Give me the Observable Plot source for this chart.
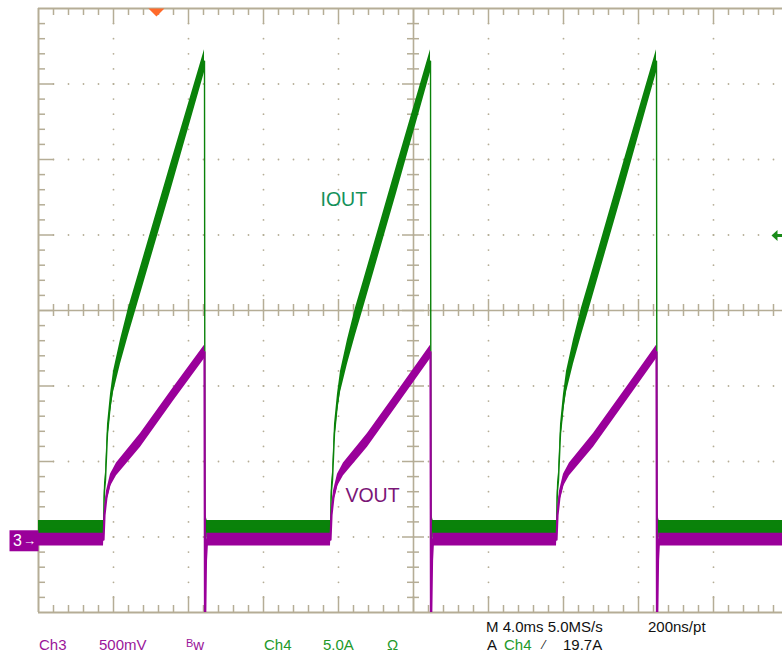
<!DOCTYPE html>
<html><head><meta charset="utf-8">
<script src="https://cdn.jsdelivr.net/npm/d3@7"></script>
<script src="https://cdn.jsdelivr.net/npm/@observablehq/plot@0.6"></script>
<style>
html,body{margin:0;padding:0;background:#fff;overflow:hidden;width:782px;height:655px;}
#chart{position:absolute;left:0;top:0;}
.cap{position:absolute;white-space:nowrap;font-family:"Liberation Sans",Arial,sans-serif;font-size:15px;line-height:17px;}
.pu{color:#9a169a}.gr{color:#22992a}.bk{color:#111}
</style></head>
<body>
<div id="chart"></div>
<div class="cap bk" style="left:486px;top:618px">M 4.0ms 5.0MS/s</div>
<div class="cap bk" style="left:648px;top:618px">200ns/pt</div>
<div class="cap pu" style="left:39px;top:636px">Ch3</div>
<div class="cap pu" style="left:99px;top:636px">500mV</div>
<div class="cap pu" style="left:186px;top:636px"><span style="font-size:11px;position:relative;top:-3px">B</span>w</div>
<div class="cap gr" style="left:264px;top:636px">Ch4</div>
<div class="cap gr" style="left:323px;top:636px">5.0A</div>
<div class="cap gr" style="left:387px;top:636px">Ω</div>
<div class="cap bk" style="left:487px;top:636px">A</div>
<div class="cap gr" style="left:504px;top:636px">Ch4</div>
<div class="cap bk" style="left:543px;top:637px;font-size:12px">⁄</div>
<div class="cap bk" style="left:563px;top:636px">19.7A</div>
<script>
// ---- scope settings ----
const timePerDiv = 4.0;          // ms/div
const ch3VoltsPerDiv = 0.5;      // V/div
const ch3OffsetDiv = -3.05;      // ground marker position (div)
const ch4AmpsPerDiv = 5.0;       // A/div
const ch4OffsetDiv = -2.947;     // zero position (div)
const triggerTime = 6.29;        // ms
const triggerLevel = 19.7;       // A

// ---- Ch4 IOUT envelope (ms, A min, A max) ----
const iout_t = [0,
 3.467, 3.500, 3.520, 3.573, 3.680, 3.840, 4.000, 4.373, 4.800, 5.227, 7.040, 8.853, 8.880, 8.930, 8.990,
 15.573, 15.606, 15.626, 15.680, 15.786, 15.946, 16.106, 16.480, 16.906, 17.333, 19.120, 20.907, 20.933, 20.987, 21.040,
 27.627, 27.660, 27.680, 27.733, 27.840, 28.000, 28.160, 28.533, 28.960, 29.387, 31.173, 32.960, 32.987, 33.040, 33.093,
 39.68];
const iout_lo = [-0.3,
 -0.3, 1.6, 2.3, 3.0, 6.0, 8.0, 9.3, 11.2, 13.1, 14.9, 22.6, 30.5, -3.95, 0.5, -0.3,
 -0.3, 1.6, 2.3, 3.0, 6.0, 8.0, 9.3, 11.2, 13.1, 14.9, 22.6, 30.5, -3.95, 0.5, -0.3,
 -0.3, 1.6, 2.3, 3.0, 6.0, 8.0, 9.3, 11.2, 13.1, 14.9, 22.6, 30.5, -3.95, 0.5, -0.3,
 -0.3];
const iout_hi = [0.83,
 0.83, 2.6, 3.3, 4.0, 7.2, 9.2, 10.7, 12.8, 14.9, 16.7, 24.4, 32.0, -3.85, 1.2, 0.83,
 0.83, 2.6, 3.3, 4.0, 7.2, 9.2, 10.7, 12.8, 14.9, 16.7, 24.4, 32.0, -3.85, 1.2, 0.83,
 0.83, 2.6, 3.3, 4.0, 7.2, 9.2, 10.7, 12.8, 14.9, 16.7, 24.4, 32.0, -3.85, 1.2, 0.83,
 0.83];

// ---- Ch3 VOUT envelope (ms, V min, V max) ----
const vout_t = [0,
 3.467, 3.520, 3.627, 3.840, 4.160, 5.440, 7.200, 8.853, 8.880, 8.930, 8.990,
 15.573, 15.626, 15.733, 15.946, 16.266, 17.546, 19.306, 20.907, 20.933, 20.987, 21.040,
 27.627, 27.680, 27.787, 28.000, 28.320, 29.600, 31.360, 32.960, 32.987, 33.040, 33.093,
 39.68];
const vout_lo = [-0.035,
 -0.035, 0.14, 0.25, 0.36, 0.43, 0.62, 0.925, 1.205, -0.62, -0.16, -0.035,
 -0.035, 0.14, 0.25, 0.36, 0.43, 0.62, 0.925, 1.205, -0.62, -0.16, -0.035,
 -0.035, 0.14, 0.25, 0.36, 0.43, 0.62, 0.925, 1.205, -0.62, -0.16, -0.035,
 -0.035];
const vout_hi = [0.05,
 0.05, 0.20, 0.33, 0.44, 0.515, 0.71, 1.015, 1.295, -0.58, -0.10, 0.05,
 0.05, 0.20, 0.33, 0.44, 0.515, 0.71, 1.015, 1.295, -0.58, -0.10, 0.05,
 0.05, 0.20, 0.33, 0.44, 0.515, 0.71, 1.015, 1.295, -0.58, -0.10, 0.05,
 0.05];

// ---- trace labels ----
const labelText = ["IOUT", "VOUT"];
const labelTime = [15.04, 16.37];
const labelValue = [22.1, 0.30];   // A for IOUT, V for VOUT

// ---- build ----
const green = "#0a820a", purple = "#9a009a", gridC = "#b5ad96";
const iDiv = a => a / ch4AmpsPerDiv + ch4OffsetDiv;
const vDiv = v => v / ch3VoltsPerDiv + ch3OffsetDiv;
const iout = iout_t.map((t, i) => ({t, lo: iout_lo[i], hi: iout_hi[i]}));
const vout = vout_t.map((t, i) => ({t, lo: vout_lo[i], hi: vout_hi[i]}));

const pxX = 75 / timePerDiv;   // px per ms
const pxY = 75.5;              // px per div
const msOf = px => px / pxX;
const dvOf = px => px / pxY;

// grid dots
const dots = [];
for (let k = 1; k <= 9; k++) { if (k === 5) continue;
  for (let j = -19; j <= 19; j++) dots.push({x: k * timePerDiv, y: j * 0.2}); }
for (let m = -3; m <= 3; m++) { if (m === 0) continue;
  for (let i = 1; i <= 49; i++) dots.push({x: i * timePerDiv / 5, y: m}); }
const xt = d3.range(1, 50).map(i => ({x: i * timePerDiv / 5, major: i % 5 === 0}));
const yt = d3.range(-19, 20).map(j => ({y: j * 0.2, major: j % 5 === 0}));

const triSym = {draw(c){ c.moveTo(-8,-4); c.lineTo(8,-4); c.lineTo(0,4); c.closePath(); }};
const arrowSym = {draw(c){ c.moveTo(-11,0); c.lineTo(-5,-5.5); c.lineTo(-5,-1.5); c.lineTo(0,-1.5); c.lineTo(0,1.5); c.lineTo(-5,1.5); c.lineTo(-5,5.5); c.closePath(); }};
const boxSym = {draw(c){ c.rect(-29,-10.5,29,21); }};

const plot = Plot.plot({
  width: 782, height: 616,
  marginLeft: 38, marginRight: 0, marginTop: 8, marginBottom: 4,
  x: {domain: [0, 39.68], axis: null},
  y: {domain: [-4, 4], axis: null},
  style: {background: "white", fontFamily: "Liberation Sans, Arial, sans-serif", overflow: "visible"},
  marks: [
    Plot.dot(dots, {x: "x", y: "y", r: 0.9, fill: gridC, stroke: null}),
    Plot.ruleX([timePerDiv * 5], {stroke: gridC, strokeWidth: 1.6}),
    Plot.ruleY([0], {stroke: gridC, strokeWidth: 1.6}),
    // center cross ticks
    Plot.ruleX(xt, {x: "x", y1: d => -dvOf(d.major ? 11 : 6), y2: d => dvOf(d.major ? 11 : 6), stroke: gridC, strokeWidth: 1.5}),
    Plot.ruleY(yt, {y: "y", x1: d => 20 - msOf(d.major ? 11 : 6), x2: d => 20 + msOf(d.major ? 11 : 6), stroke: gridC, strokeWidth: 1.5}),
    // border ticks
    Plot.ruleX(xt, {x: "x", y1: 4, y2: d => 4 - dvOf(d.major ? 16 : 7), stroke: gridC, strokeWidth: 1.5}),
    Plot.ruleX(xt, {x: "x", y1: -4, y2: d => -4 + dvOf(d.major ? 16 : 7), stroke: gridC, strokeWidth: 1.5}),
    Plot.ruleY(yt, {y: "y", x1: 0, x2: d => msOf(d.major ? 16 : 7), stroke: gridC, strokeWidth: 1.5}),
    // borders
    Plot.ruleY([-4, 4], {stroke: gridC, strokeWidth: 2}),
    Plot.ruleX([0], {y1: -4, y2: 4, stroke: gridC, strokeWidth: 2}),
    // traces
    Plot.areaY(iout, {x: "t", y1: d => iDiv(d.lo), y2: d => iDiv(d.hi), fill: green, clip: true}),
    Plot.line(iout, {x: "t", y: d => iDiv((d.lo + d.hi) / 2), stroke: green, strokeWidth: 1.4, clip: true}),
    Plot.areaY(vout, {x: "t", y1: d => vDiv(d.lo), y2: d => vDiv(d.hi), fill: purple, clip: true}),
    Plot.line(vout, {x: "t", y: d => vDiv((d.lo + d.hi) / 2), stroke: purple, strokeWidth: 2.2, clip: true}),
    // labels
    Plot.text([0, 1], {x: i => labelTime[i], y: i => i === 0 ? iDiv(labelValue[i]) : vDiv(labelValue[i]),
      text: i => labelText[i], fill: i => i === 0 ? "#14915a" : "#7a1677", textAnchor: "start", fontSize: 19.5}),
    // markers
    Plot.dot([triggerTime], {x: d => d, y: 4, dy: 4, r: 5, symbol: triSym, fill: "#ff6a2a", stroke: null}),
    Plot.dot([triggerLevel], {x: 39.68, y: d => iDiv(d), r: 5, symbol: arrowSym, fill: "#1a8c1a", stroke: null}),
    Plot.dot([0], {x: 0, y: d => vDiv(d), r: 5, symbol: boxSym, fill: purple, stroke: null}),
    Plot.text([0], {x: 0, y: d => vDiv(d), dx: -21, text: () => "3", fill: "white", fontSize: 16}),
    Plot.text([0], {x: 0, y: d => vDiv(d), dx: -9, text: () => "→", fill: "white", fontSize: 13})
  ]
});
document.getElementById("chart").appendChild(plot);
</script>
</body></html>
